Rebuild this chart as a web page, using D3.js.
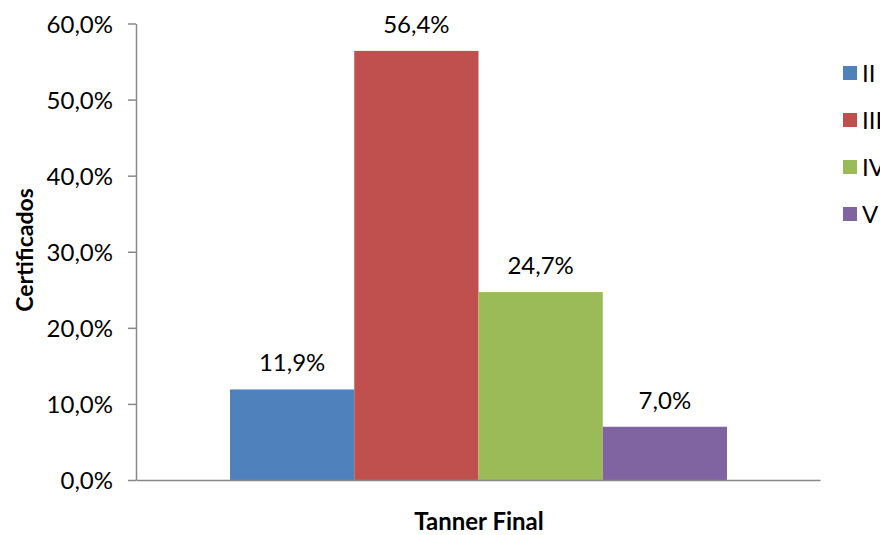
<!DOCTYPE html>
<html>
<head>
<meta charset="utf-8">
<script src="https://cdn.jsdelivr.net/npm/d3@7"></script>
<style>
  html, body { margin: 0; padding: 0; background: #fff; }
  svg { display: block; }
  text { font-family: Lato, "Open Sans", sans-serif; fill: #000; }
</style>
</head>
<body>
<svg id="chart" width="880" height="535"></svg>
<script>
// Tanner stage distribution (percent of certified cases)
const categories = ["II", "III", "IV", "V"];
const values = [11.9, 56.4, 24.7, 7.0];
const colors = ["#4f81bd", "#c0504d", "#9bbb59", "#8064a2"];
const yTicks = [0, 10, 20, 30, 40, 50, 60];
const groupLabel = "Tanner Final";
const yTitle = "Certificados";

const svg = d3.select("#chart");
const fmt = v => d3.format(".1f")(v).replace(".", ",") + "%";

const plot = { left: 136, right: 820, top: 23.5, bottom: 480 };

const y = d3.scaleLinear().domain([0, 60]).range([plot.bottom, plot.top]);
const xGroup = d3.scaleBand().domain([groupLabel]).range([plot.left, plot.right]).paddingInner(0).paddingOuter(0);
const x = d3.scaleBand().domain(categories)
  .range([230, 727]).padding(0);

// Y axis
const yAxis = d3.axisLeft(y).tickValues(yTicks).tickFormat(fmt).tickSize(8).tickSizeOuter(0);
const gy = svg.append("g").attr("transform", `translate(${plot.left},0)`).call(yAxis);
gy.select(".domain").attr("stroke", "#888").attr("stroke-width", 1.5);
gy.selectAll(".tick line").attr("stroke", "#888").attr("stroke-width", 1.5);
gy.selectAll(".tick text").attr("x", -23).attr("dy", "0.36em").attr("font-size", 24)
  .attr("font-family", "Lato, sans-serif").attr("fill", "#000");

// Bars
svg.append("g").selectAll("rect").data(values).join("rect")
  .attr("x", (d, i) => x(categories[i]))
  .attr("width", x.bandwidth())
  .attr("y", d => y(d))
  .attr("height", d => plot.bottom - y(d))
  .attr("fill", (d, i) => colors[i]);

// Value labels
svg.append("g").selectAll("text").data(values).join("text")
  .attr("x", (d, i) => x(categories[i]) + x.bandwidth() / 2)
  .attr("y", d => y(d) - 18)
  .attr("text-anchor", "middle")
  .attr("font-size", 24)
  .text(d => fmt(d));

// X axis (category axis, no ticks)
const xAxis = d3.axisBottom(xGroup).tickSize(0).tickFormat("");
const gx = svg.append("g").attr("transform", `translate(0,${plot.bottom})`).call(xAxis);
gx.select(".domain").attr("stroke", "#888").attr("stroke-width", 1.5);

// Axis titles
svg.append("text")
  .attr("x", 479)
  .attr("y", 530)
  .attr("text-anchor", "middle")
  .attr("font-size", 24)
  .attr("font-weight", "bold")
  .text(groupLabel);

svg.append("text")
  .attr("transform", "translate(33,250) rotate(-90)")
  .attr("text-anchor", "middle")
  .attr("font-size", 23)
  .attr("font-weight", "bold")
  .text(yTitle);

// Legend (runs up to the right edge of the canvas)
const legend = svg.append("g").selectAll("g").data(categories).join("g")
  .attr("transform", (d, i) => `translate(843,${73 + i * 47})`);
legend.append("rect")
  .attr("x", 0).attr("y", -7).attr("width", 14).attr("height", 14)
  .attr("fill", (d, i) => colors[i]);
legend.append("text")
  .attr("x", 19).attr("y", 8.5)
  .attr("font-size", 24)
  .text(d => d);
</script>
</body>
</html>
